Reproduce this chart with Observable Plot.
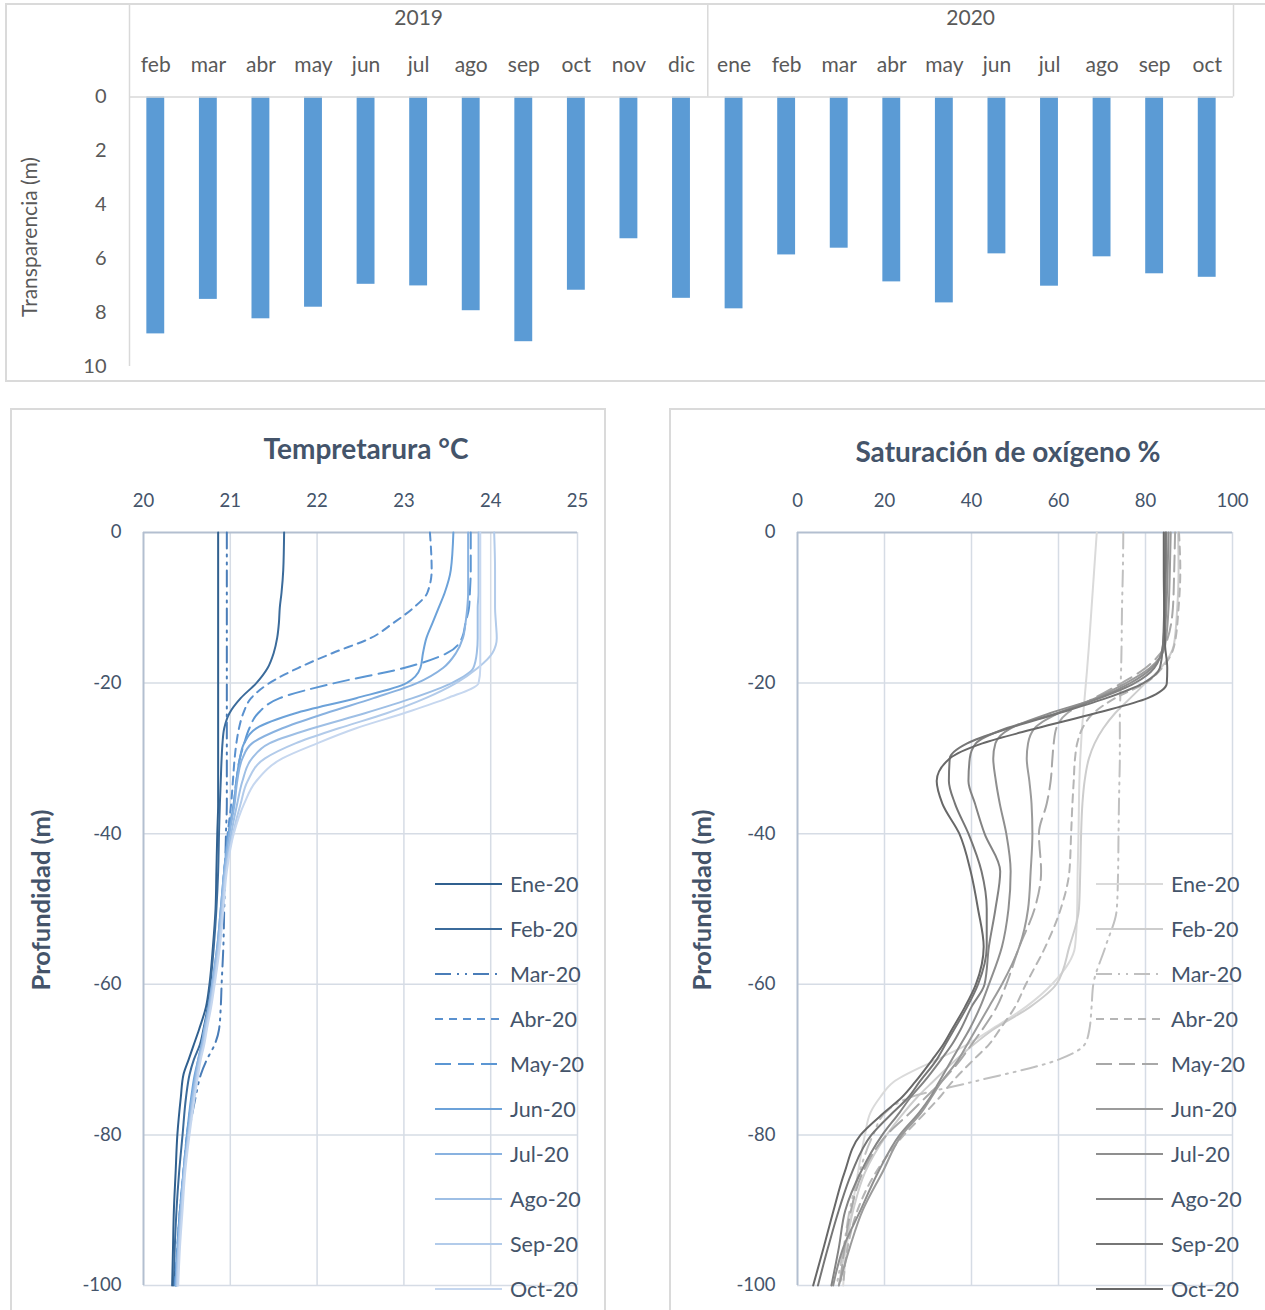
<!DOCTYPE html>
<html><head><meta charset="utf-8">
<script src="https://cdn.jsdelivr.net/npm/d3@7"></script>
<script src="https://cdn.jsdelivr.net/npm/@observablehq/plot@0.6"></script>
<style>
html,body{margin:0;padding:0;background:#fff;}
body{width:1265px;height:1310px;position:relative;overflow:hidden;font-family:Lato,"Open Sans",sans-serif;}
.chart{position:absolute;}
.frame{position:absolute;border:2px solid #DADADA;box-sizing:border-box;pointer-events:none;z-index:5;}
.title{position:absolute;font-weight:700;font-size:28px;color:#44546A;transform:translate(-50%,-50%);white-space:nowrap;z-index:6;}
.ylab{position:absolute;font-weight:700;font-size:25.5px;color:#44546A;transform:translate(-50%,-50%) rotate(-90deg);white-space:nowrap;z-index:6;}
.ylabTop{position:absolute;font-size:21px;color:#595959;transform:translate(-50%,-50%) rotate(-90deg);white-space:nowrap;z-index:6;}
</style></head><body>
<div class="frame" style="left:5px;top:3px;width:1262px;height:379px;"></div>
<div class="frame" style="left:10px;top:408px;width:596px;height:940px;"></div>
<div class="frame" style="left:669px;top:408px;width:640px;height:940px;"></div>
<div id="top" class="chart" style="left:0;top:0;"></div>
<div id="temp" class="chart" style="left:0;top:400px;"></div>
<div id="oxy" class="chart" style="left:660px;top:400px;"></div>
<div class="ylabTop" style="left:28px;top:237px;">Transparencia (m)</div>
<div class="title" style="left:366px;top:448px;">Tempretarura °C</div>
<div class="title" style="left:1008px;top:451px;">Saturación de oxígeno %</div>
<div class="ylab" style="left:40px;top:900px;">Profundidad (m)</div>
<div class="ylab" style="left:701px;top:900px;">Profundidad (m)</div>
<svg id="legend" style="position:absolute;left:0;top:0;z-index:4;pointer-events:none;" width="1265" height="1310"></svg>
<script>
// ---------- Top chart data: transparency (m) ----------
const barMonths = ["feb","mar","abr","may","jun","jul","ago","sep","oct","nov","dic",
                   "ene","feb","mar","abr","may","jun","jul","ago","sep","oct"];
const barYears = [2019,2019,2019,2019,2019,2019,2019,2019,2019,2019,2019,
                  2020,2020,2020,2020,2020,2020,2020,2020,2020,2020];
const transparencia = [8.79,7.51,8.23,7.80,6.95,7.01,7.93,9.08,7.17,5.26,7.47,
                       7.86,5.86,5.61,6.86,7.64,5.82,7.02,5.93,6.56,6.69];
const transpTicks = [0,2,4,6,8,10];

// ---------- Profile series ----------
const months = ["Ene-20","Feb-20","Mar-20","Abr-20","May-20","Jun-20","Jul-20","Ago-20","Sep-20","Oct-20"];

// Temperature (°C) at depths (m)
const tempDepths = [0,5,8,10,12,14,16,18,20,22,24,26,28,30,33,36,40,45,50,55,60,63,66,68,70,72,75,80,85,90,95,100];
const tEne = [20.86,20.86,20.86,20.86,20.86,20.86,20.86,20.86,20.86,20.86,20.86,20.86,20.86,20.86,20.86,20.86,20.85,20.84,20.83,20.80,20.76,20.72,20.64,20.58,20.52,20.46,20.43,20.39,20.37,20.35,20.34,20.33];
const tFeb = [21.62,21.61,21.59,21.57,21.56,21.54,21.50,21.43,21.30,21.12,20.99,20.93,20.91,20.90,20.89,20.88,20.87,20.86,20.84,20.81,20.77,20.74,20.69,20.65,20.58,20.53,20.49,20.45,20.41,20.38,20.36,20.35];
const tMar = [20.96,20.96,20.96,20.96,20.96,20.96,20.96,20.96,20.96,20.96,20.96,20.96,20.96,20.96,20.96,20.96,20.95,20.94,20.93,20.92,20.90,20.89,20.87,20.82,20.73,20.66,20.60,20.52,20.47,20.43,20.40,20.37];
const tAbr = [23.30,23.32,23.27,23.11,22.88,22.62,22.18,21.78,21.45,21.24,21.15,21.10,21.07,21.05,21.03,21.01,20.97,20.93,20.90,20.86,20.80,20.76,20.71,20.68,20.64,20.60,20.56,20.50,20.46,20.42,20.39,20.36];
const tMay = [23.77,23.77,23.76,23.75,23.71,23.67,23.50,23.00,22.20,21.57,21.32,21.22,21.16,21.11,21.07,21.04,20.98,20.93,20.90,20.86,20.80,20.76,20.72,20.69,20.65,20.61,20.57,20.51,20.46,20.42,20.39,20.37];
const tJun = [23.57,23.54,23.47,23.40,23.33,23.26,23.22,23.19,23.03,22.45,21.75,21.30,21.16,21.11,21.07,21.04,20.98,20.93,20.89,20.85,20.79,20.75,20.70,20.67,20.63,20.59,20.55,20.50,20.46,20.42,20.39,20.37];
const tJul = [23.74,23.74,23.74,23.73,23.71,23.68,23.60,23.45,23.15,22.65,22.10,21.60,21.25,21.14,21.08,21.05,20.99,20.93,20.89,20.85,20.79,20.75,20.70,20.67,20.63,20.60,20.56,20.51,20.46,20.43,20.40,20.38];
const tAgo = [23.86,23.86,23.86,23.85,23.85,23.85,23.84,23.80,23.55,23.10,22.55,21.95,21.45,21.25,21.14,21.08,21.01,20.94,20.90,20.86,20.80,20.76,20.71,20.68,20.64,20.61,20.57,20.52,20.47,20.43,20.40,20.38];
const tSep = [24.04,24.05,24.05,24.05,24.06,24.07,24.02,23.85,23.60,23.25,22.80,22.25,21.75,21.40,21.20,21.12,21.03,20.95,20.91,20.87,20.81,20.77,20.72,20.69,20.65,20.62,20.58,20.52,20.47,20.44,20.41,20.39];
const tOct = [23.88,23.88,23.88,23.88,23.88,23.88,23.88,23.88,23.86,23.50,23.00,22.45,22.00,21.60,21.30,21.16,21.04,20.96,20.92,20.88,20.82,20.78,20.73,20.70,20.66,20.63,20.59,20.53,20.48,20.45,20.42,20.40];
const tempSeries = [tEne,tFeb,tMar,tAbr,tMay,tJun,tJul,tAgo,tSep,tOct];
const tempTicks = [20,21,22,23,24,25];

// Oxygen saturation (%) at depths (m)
const oxyDepths = [0,5,10,15,18,20,22,24,26,28,30,33,36,40,45,50,55,60,63,66,68,70,73,75,77,80,85,90,95,100];
const oEne = [68.8,68.2,67.6,67.0,66.6,66.3,66.0,65.7,65.4,65.2,65.0,64.8,64.7,64.6,64.4,64.3,63.8,58.5,52.5,44.5,39.0,32.0,22.0,19.0,16.8,15.5,13.9,12.5,11.3,10.5];
const oFeb = [87.5,87.6,87.3,86.5,83.5,80.0,76.5,73.0,70.3,68.3,67.0,66.0,65.5,65.2,65.0,64.7,62.5,59.5,53.5,45.0,40.5,36.5,31.0,27.5,24.5,20.5,15.5,12.8,11.0,9.5];
const oMar = [74.9,74.8,74.6,74.5,74.4,74.3,74.2,74.1,74.1,74.1,74.1,74.0,73.9,73.8,73.7,73.4,70.8,68.0,67.6,67.1,66.0,60.0,40.0,26.0,20.3,17.4,14.2,12.0,10.6,9.0];
const oAbr = [87.7,88.0,87.6,86.6,83.8,80.0,73.0,68.0,65.5,64.3,63.8,63.5,63.2,62.9,62.5,60.5,57.0,52.5,50.0,46.5,44.0,40.5,35.5,32.7,29.5,24.5,18.0,13.8,11.5,10.5];
const oMay = [86.8,86.6,86.3,84.5,80.0,74.5,68.2,62.0,59.5,58.9,58.6,58.2,57.3,55.5,56.0,54.5,51.0,48.0,45.8,42.5,40.0,37.5,33.0,29.5,26.0,20.5,15.0,12.3,10.8,9.8];
const oJun = [85.8,85.6,85.3,84.5,81.0,75.5,68.5,60.0,54.5,53.0,52.7,53.3,53.8,54.0,53.6,53.0,51.0,47.0,44.0,41.0,39.0,37.0,33.0,30.8,28.5,24.0,19.5,15.0,12.0,9.5];
const oJul = [85.3,85.1,84.8,84.2,81.5,76.5,69.0,58.0,49.0,45.5,45.0,45.6,46.5,48.0,49.0,48.5,47.0,44.0,42.0,39.5,37.5,35.5,32.5,30.5,28.0,23.5,18.5,14.5,10.5,8.2];
const oAgo = [84.8,84.7,84.5,84.0,82.0,77.5,69.5,59.6,48.0,41.0,39.6,39.3,40.8,43.0,46.6,45.5,44.0,43.0,40.0,37.5,35.5,33.0,29.0,26.0,23.5,19.5,14.5,11.0,9.5,7.8];
const oSep = [84.6,84.5,84.3,84.0,83.3,79.5,71.0,60.0,48.5,39.0,35.0,34.8,36.2,39.3,42.3,43.5,43.5,41.5,39.0,36.0,34.0,32.0,28.0,25.5,22.0,17.0,12.5,9.5,7.0,4.7];
const oOct = [84.2,84.2,84.3,84.5,85.0,84.9,80.5,68.5,55.0,42.5,35.0,32.0,33.3,37.2,39.8,41.5,42.8,41.0,38.5,35.5,33.5,31.0,27.0,24.0,20.0,14.5,10.8,8.3,6.0,3.6];
const oxySeries = [oEne,oFeb,oMar,oAbr,oMay,oJun,oJul,oAgo,oSep,oOct];
const oxyTicks = [0,20,40,60,80,100];
const depthTicks = [-100,-80,-60,-40,-20,0];

// ---------- Styles ----------
const tempColors = ["#30608F","#3B6B9B","#4A7DB8","#5A91CF","#5B96D3","#6CA2D9","#89B2E0","#9EBFE5","#B2CBEA","#C6D7EF"];
const oxyColors  = ["#DADADA","#CDCDCD","#C0C0C0","#B5B5B5","#A8A8A8","#9B9B9B","#8F8F8F","#838383","#767676","#686868"];
const dashes = [null,null,"16,6,2,6,2,6","8,6","16,7",null,null,null,null,null];
const gridColor = "#D6DCE5", axisColor = "#B3BFD0", textColor = "#44546A";

// ---------- Top bar chart ----------
const bars = barMonths.map((m,i)=>({i, month:m, year:barYears[i], value:transparencia[i]}));
const yearGroups = d3.groups(bars, d=>d.year).map(([year, items]) => ({
  year, center: d3.mean(items, d=>d.i),
  start: d3.min(items, d=>d.i) - 0.5, end: d3.max(items, d=>d.i) + 0.5
}));
const boundaries = Array.from(new Set(yearGroups.flatMap(g=>[g.start,g.end])));
const lineGray = "#D9D9D9";

const topChart = Plot.plot({
  width: 1265, height: 385,
  marginLeft: 129, marginRight: 32, marginTop: 96.5, marginBottom: 19,
  style: {fontFamily: "Lato, sans-serif", fontSize: "20px", color: "#595959", background: "transparent", overflow: "visible"},
  x: {domain: [-0.5, bars.length - 0.5], axis: null},
  y: {domain: [0, 10], reverse: true, ticks: transpTicks, tickSize: 0, tickPadding: 23, label: null, tickFormat: d=>String(d)},
  marks: [
    Plot.rectY(bars, {x1: d=>d.i-0.17, x2: d=>d.i+0.17, y: "value", fill: "#5B9BD5"}),
    Plot.ruleY([0], {stroke: lineGray, strokeWidth: 1.5}),
    Plot.ruleX([boundaries[0]], {stroke: lineGray, strokeWidth: 1.5, insetTop: -92}),
    Plot.ruleX(boundaries.slice(1), {y1: 0, y2: 0, insetTop: -92, stroke: lineGray, strokeWidth: 1.5}),
    Plot.text(bars, {x: "i", text: "month", frameAnchor: "top", dy: -32, lineAnchor: "middle", fill: "#595959", fontSize: 21}),
    Plot.text(yearGroups, {x: "center", text: d=>String(d.year), frameAnchor: "top", dy: -79, lineAnchor: "middle", fill: "#595959", fontSize: 21})
  ]
});
document.getElementById("top").appendChild(topChart);

// ---------- Profile charts ----------
function profileRows(series, depths) {
  return months.flatMap((m,k) => depths.map((d,j) => ({month: m, k, depth: -d, value: series[k][j]})));
}
function profileChart(series, depths, colors, xDomain, xTicks, width, marginLeft) {
  const rows = profileRows(series, depths);
  const lines = months.map((m,k) => Plot.line(rows.filter(r=>r.k===k), {
    x: "value", y: "depth", stroke: colors[k], strokeWidth: 2,
    strokeDasharray: dashes[k] || undefined, curve: "monotone-y"
  }));
  return Plot.plot({
    width, height: 910,
    marginLeft, marginRight: 33, marginTop: 132, marginBottom: 25,
    style: {fontFamily: "Lato, sans-serif", fontSize: "18.5px", color: textColor, background: "transparent", overflow: "visible"},
    x: {domain: xDomain, axis: "top", ticks: xTicks, tickSize: 0, tickPadding: 26, label: null, tickFormat: d=>String(d)},
    y: {domain: [-100, 0], ticks: depthTicks, tickSize: 0, tickPadding: 22, label: null, tickFormat: d=>String(d)},
    marks: [
      Plot.ruleX(xTicks.slice(1), {stroke: gridColor, strokeWidth: 1.5}),
      Plot.ruleY(depthTicks.slice(0, -1), {stroke: gridColor, strokeWidth: 1.5}),
      Plot.ruleX([xDomain[0]], {stroke: axisColor, strokeWidth: 2}),
      Plot.ruleY([0], {stroke: axisColor, strokeWidth: 2}),
      ...lines
    ]
  });
}
document.getElementById("temp").appendChild(profileChart(tempSeries, tempDepths, tempColors, [20,25], tempTicks, 610, 143));
document.getElementById("oxy").appendChild(profileChart(oxySeries, oxyDepths, oxyColors, [0,100], oxyTicks, 605, 137));

// ---------- Legends ----------
const legend = d3.select("#legend");
function drawLegend(x0, colors) {
  const g = legend.append("g");
  months.forEach((m,k) => {
    const y = 884 + 45*k;
    g.append("line").attr("x1", x0).attr("x2", x0+67).attr("y1", y).attr("y2", y)
      .attr("stroke", colors[k]).attr("stroke-width", 2)
      .attr("stroke-dasharray", dashes[k] || null);
    g.append("text").attr("x", x0+75).attr("y", y).attr("dy", "0.35em")
      .attr("fill", textColor).attr("font-family", "Lato, sans-serif").attr("font-size", "21.5px")
      .text(m);
  });
}
drawLegend(435, tempColors);
drawLegend(1096, oxyColors);
</script>
</body></html>
